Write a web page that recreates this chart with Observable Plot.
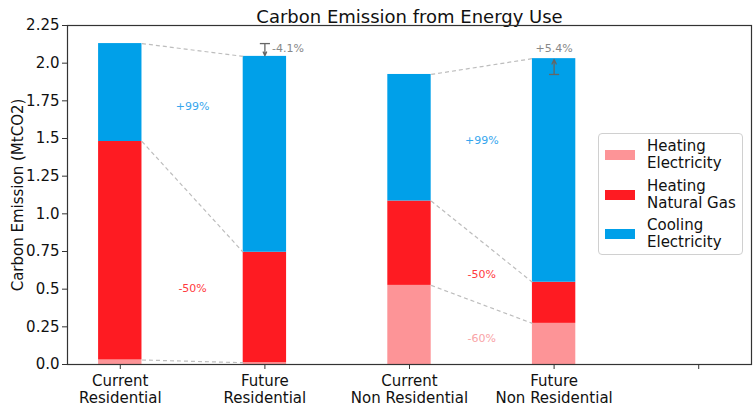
<!DOCTYPE html>
<html><head><meta charset="utf-8">
<script src="https://cdn.jsdelivr.net/npm/d3@7"></script>
<script src="https://cdn.jsdelivr.net/npm/@observablehq/plot@0.6"></script>
<style>
body{margin:0;background:#fff;font-family:"DejaVu Sans",sans-serif;}
#wrap{position:relative;width:754px;height:406px;}
#legend{position:absolute;left:598px;top:133px;width:145px;height:122px;border:1px solid #d0d0d0;border-radius:4px;background:rgba(255,255,255,0.9);box-sizing:border-box;}
.item{position:absolute;left:6px;display:flex;align-items:center;}
.sw{width:30px;height:10px;margin-right:12px;}
.lb{font-size:15px;line-height:17px;color:#111;}
</style></head>
<body><div id="wrap"></div>
<script>
const categories = ["Current\nResidential","Future\nResidential","Current\nNon Residential","Future\nNon Residential",""];
const seriesNames = ["Heating\nElectricity","Heating\nNatural Gas","Cooling\nElectricity"];
const heatingElectricity = [0.03, 0.012, 0.525, 0.273];
const heatingGas = [1.45, 0.733, 0.56, 0.273];
const cooling = [0.65, 1.30, 0.84, 1.484];
const colors = ["#fd9497","#fe1b22","#00a0e9"];
const yTicks = [0,0.25,0.5,0.75,1.0,1.25,1.5,1.75,2.0,2.25];
const changeLabels = [
  {x:0.5, y:1.71, text:"+99%", s:2},
  {x:0.5, y:0.506, text:"-50%", s:1},
  {x:2.5, y:1.485, text:"+99%", s:2},
  {x:2.5, y:0.60, text:"-50%", s:1},
  {x:2.5, y:0.173, text:"-60%", s:0}
];
const totalChanges = [
  {from:0, to:1, text:"-4.1%"},
  {from:2, to:3, text:"+5.4%"}
];
const labelColors = ["#f9a3a6","#ff3a40","#36a6ee"];

const W = 0.15;
const segs = [];
const series = [heatingElectricity, heatingGas, cooling];
for (let i = 0; i < 4; i++) {
  let base = 0;
  series.forEach((arr, s) => {
    segs.push({i, s, y1: base, y2: base + arr[i]});
    base += arr[i];
  });
}
const tops = (i, k) => series.slice(0, k + 1).reduce((a, arr) => a + arr[i], 0);
const connectors = [];
[[0,1],[2,3]].forEach(([a,b]) => {
  for (let k = 0; k < 3; k++) connectors.push({x1: a + W, x2: b - W, y1: tops(a,k), y2: tops(b,k)});
});
const arrows = totalChanges.map(d => ({x: d.to, y1: tops(d.from,2), y2: tops(d.to,2), text: d.text}));
const downs = arrows.filter(d => d.y2 < d.y1);
const ups = arrows.filter(d => d.y2 >= d.y1);

const plot = Plot.plot({
  width: 754, height: 406,
  marginLeft: 67, marginRight: 3, marginTop: 25, marginBottom: 42,
  style: {fontFamily: "DejaVu Sans, sans-serif", fontSize: "15px", color: "#111", overflow: "visible"},
  x: {domain: [-0.365, 4.365], label: null},
  y: {domain: [0, 2.25]},
  marks: [
    Plot.rect(segs, {x1: d => d.i - W, x2: d => d.i + W, y1: "y1", y2: "y2", fill: d => colors[d.s]}),
    Plot.link(connectors, {x1: "x1", x2: "x2", y1: "y1", y2: "y2", stroke: "#bdbdbd", strokeWidth: 1.2, strokeDasharray: "4,3"}),
    Plot.text(changeLabels, {x: "x", y: "y", text: "text", fill: d => labelColors[d.s], fontSize: 11}),
    Plot.arrow(arrows, {x: "x", y1: "y1", y2: d => d.y2 + (d.y2 > d.y1 ? -0.005 : 0.005), x1: "x", x2: "x", stroke: "#666", strokeWidth: 1.3, headLength: 7, headAngle: 50}),
    Plot.link(arrows, {x1: d => d.x - 0.035, x2: d => d.x + 0.035, y1: "y1", y2: "y1", stroke: "#666", strokeWidth: 1.3}),
    Plot.text(downs, {x: d => d.x + 0.05, y: 2.097, text: "text", textAnchor: "start", fill: "#888", fontSize: 11}),
    Plot.text(ups, {x: "x", y: 2.097, text: "text", textAnchor: "middle", fill: "#888", fontSize: 11}),
    Plot.text(["Carbon Emission from Energy Use"], {frameAnchor: "top", dy: -15, fontSize: 18, fill: "#111", text: d => d}),
    Plot.axisX({ticks: [0,1,2,3,4], tickFormat: d => categories[d], tickSize: 5, tickPadding: 5, fontSize: 15, lineHeight: 1.1, label: null, stroke: "#333"}),
    Plot.axisY({ticks: yTicks, tickFormat: d => (Math.round(d*100) % 50 === 0 ? d.toFixed(1) : String(d)), tickSize: 5, tickPadding: 3, fontSize: 15, label: "Carbon Emission (MtCO2)", labelAnchor: "center", labelArrow: "none", labelOffset: 55, stroke: "#333"}),
    Plot.frame({stroke: "#333", strokeWidth: 1.2})
  ]
});
const wrap = document.getElementById("wrap");
wrap.appendChild(plot);
const legend = document.createElement("div");
legend.id = "legend";
seriesNames.forEach((n, s) => {
  const it = document.createElement("div");
  it.className = "item";
  it.style.top = (4 + s * 39.5) + "px";
  it.innerHTML = `<div class="sw" style="background:${colors[s]}"></div><div class="lb">${n.replace("\n","<br>")}</div>`;
  legend.appendChild(it);
});
wrap.appendChild(legend);
</script></body></html>
